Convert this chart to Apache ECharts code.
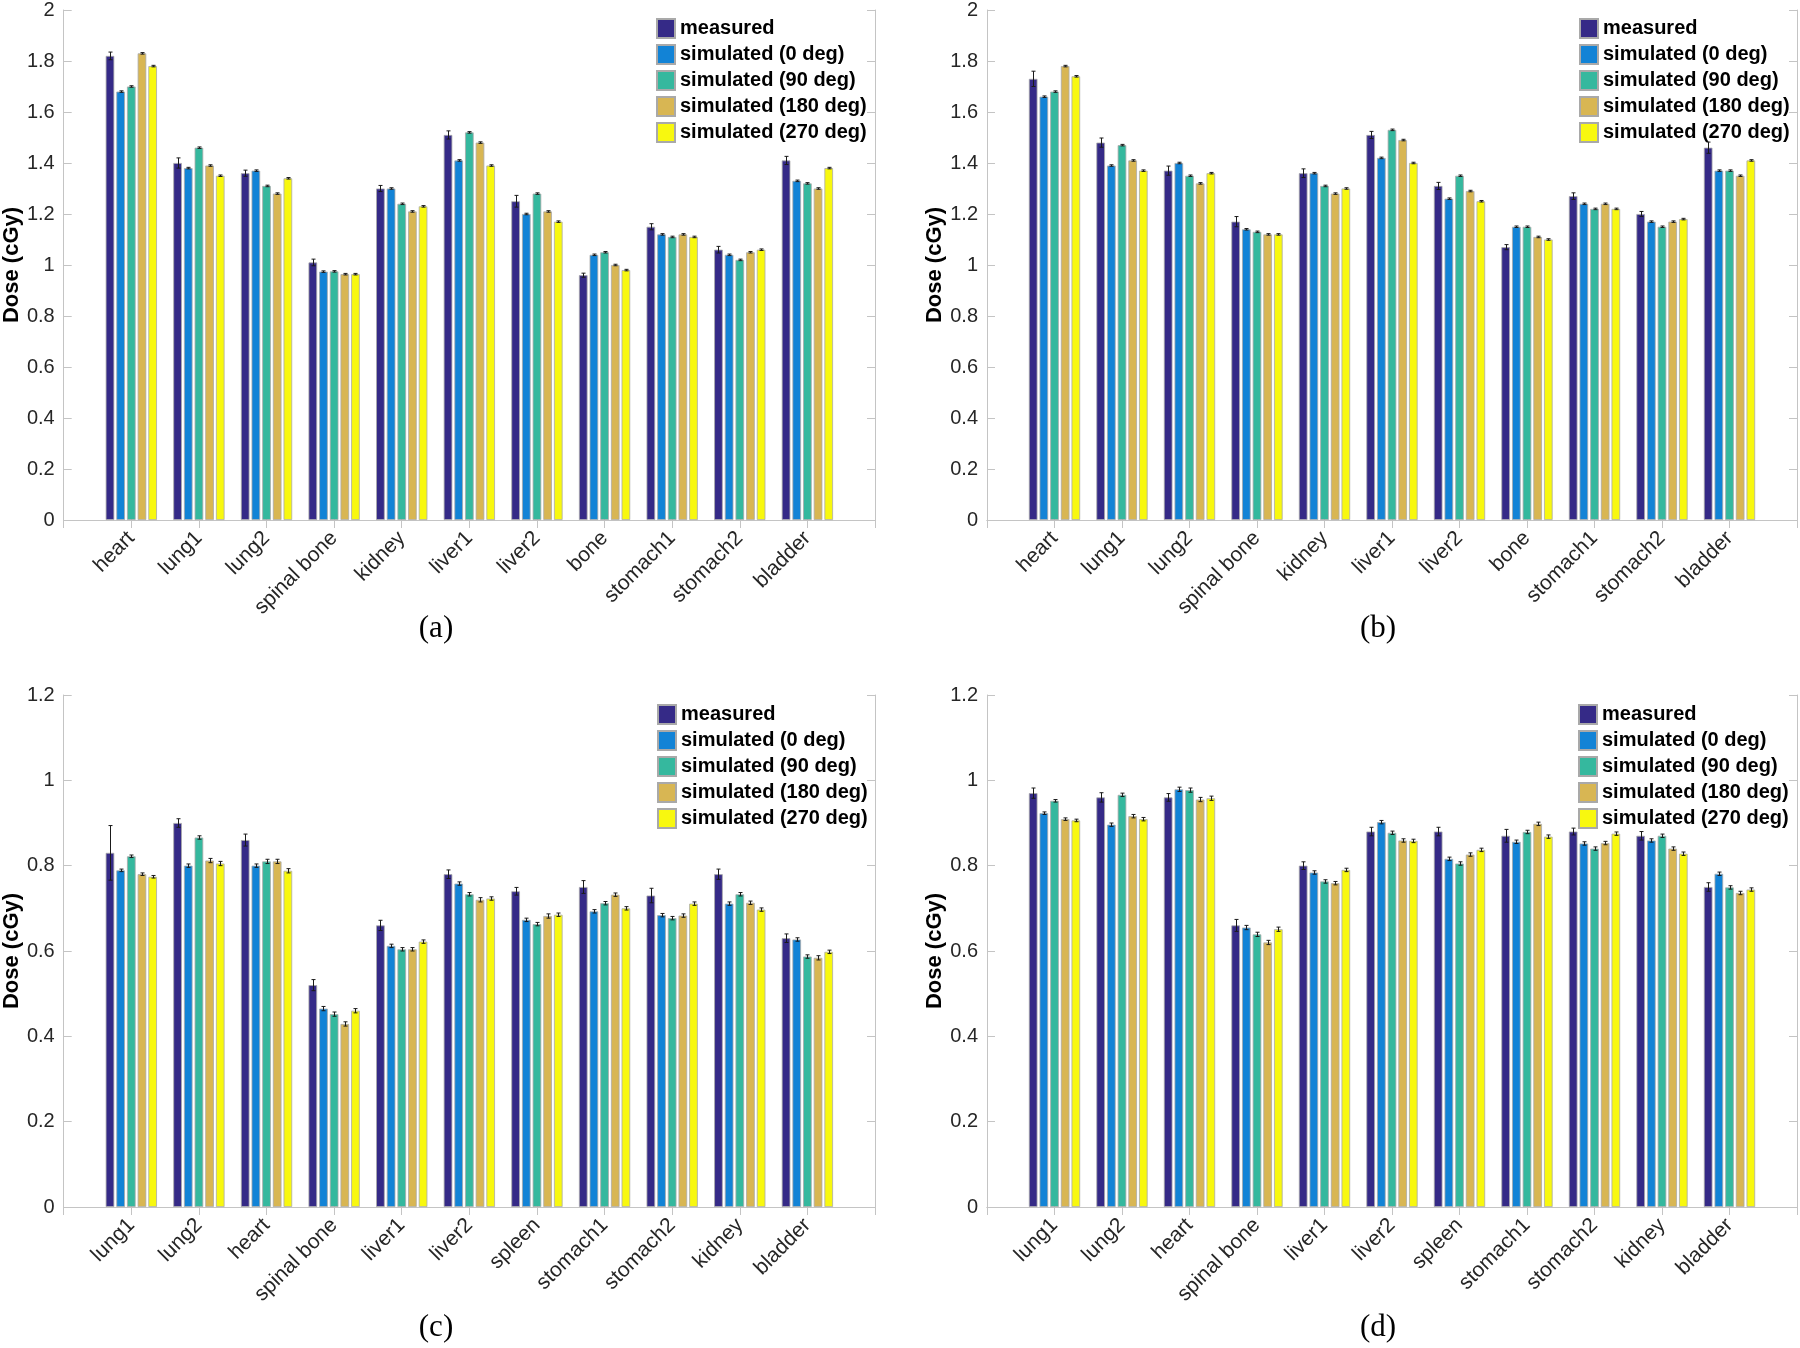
<!DOCTYPE html>
<html><head><meta charset="utf-8">
<script src="https://cdn.jsdelivr.net/npm/echarts@6/dist/echarts.min.js"></script>
<style>html,body{margin:0;padding:0;background:#fff}#c{width:1800px;height:1348px}</style>
</head><body><div id="c"></div>
<script>
// ---------- categories ----------
const catsAB = ['heart','lung1','lung2','spinal bone','kidney','liver1','liver2','bone','stomach1','stomach2','bladder'];
const catsCD = ['lung1','lung2','heart','spinal bone','liver1','liver2','spleen','stomach1','stomach2','kidney','bladder'];
const seriesNames = ['measured','simulated (0 deg)','simulated (90 deg)','simulated (180 deg)','simulated (270 deg)'];

// ---------- panel (a) ----------
const aMeasured = [1.82,1.40,1.36,1.01,1.30,1.51,1.25,0.96,1.15,1.06,1.41];
const aSim0     = [1.68,1.38,1.37,0.974,1.30,1.41,1.20,1.04,1.12,1.04,1.33];
const aSim90    = [1.70,1.46,1.31,0.975,1.24,1.52,1.28,1.05,1.11,1.02,1.32];
const aSim180   = [1.83,1.39,1.28,0.964,1.21,1.48,1.21,1.00,1.12,1.05,1.30];
const aSim270   = [1.78,1.35,1.34,0.964,1.23,1.39,1.17,0.98,1.11,1.06,1.38];
const aErrMeasured = [0.015,0.02,0.012,0.013,0.012,0.016,0.023,0.008,0.012,0.013,0.016];
const aErrSim0     = [0.003,0.003,0.003,0.003,0.003,0.003,0.003,0.003,0.003,0.003,0.003];
const aErrSim90    = [0.003,0.003,0.003,0.003,0.003,0.003,0.003,0.003,0.003,0.003,0.003];
const aErrSim180   = [0.003,0.003,0.003,0.003,0.003,0.003,0.003,0.003,0.003,0.003,0.003];
const aErrSim270   = [0.003,0.003,0.003,0.003,0.003,0.003,0.003,0.003,0.003,0.003,0.003];

// ---------- panel (b) ----------
const bMeasured = [1.73,1.48,1.37,1.17,1.36,1.51,1.31,1.07,1.27,1.20,1.46];
const bSim0     = [1.66,1.39,1.40,1.14,1.36,1.42,1.26,1.15,1.24,1.17,1.37];
const bSim90    = [1.68,1.47,1.35,1.13,1.31,1.53,1.35,1.15,1.22,1.15,1.37];
const bSim180   = [1.78,1.41,1.32,1.12,1.28,1.49,1.29,1.11,1.24,1.17,1.35];
const bSim270   = [1.74,1.37,1.36,1.12,1.30,1.40,1.25,1.10,1.22,1.18,1.41];
const bErrMeasured = [0.03,0.018,0.018,0.02,0.017,0.014,0.014,0.01,0.013,0.01,0.022];
const bErrSim0     = [0.003,0.003,0.003,0.003,0.003,0.003,0.003,0.003,0.003,0.003,0.003];
const bErrSim90    = [0.003,0.003,0.003,0.003,0.003,0.003,0.003,0.003,0.003,0.003,0.003];
const bErrSim180   = [0.003,0.003,0.003,0.003,0.003,0.003,0.003,0.003,0.003,0.003,0.003];
const bErrSim270   = [0.003,0.003,0.003,0.003,0.003,0.003,0.003,0.003,0.003,0.003,0.003];

// ---------- panel (c) ----------
const cMeasured = [0.83,0.90,0.86,0.52,0.66,0.78,0.74,0.75,0.73,0.78,0.63];
const cSim0     = [0.789,0.80,0.80,0.465,0.612,0.758,0.673,0.693,0.684,0.711,0.627];
const cSim90    = [0.822,0.866,0.81,0.452,0.604,0.733,0.663,0.712,0.677,0.733,0.587];
const cSim180   = [0.78,0.812,0.81,0.429,0.604,0.72,0.682,0.732,0.683,0.713,0.584];
const cSim270   = [0.774,0.805,0.788,0.46,0.622,0.723,0.685,0.70,0.711,0.697,0.598];
const cErrMeasured = [0.064,0.01,0.014,0.013,0.012,0.01,0.009,0.015,0.017,0.012,0.01];
const cErrSim0     = [0.003,0.004,0.004,0.005,0.004,0.004,0.004,0.004,0.004,0.004,0.004];
const cErrSim90    = [0.003,0.004,0.005,0.005,0.004,0.004,0.004,0.004,0.004,0.004,0.004];
const cErrSim180   = [0.003,0.005,0.005,0.005,0.004,0.005,0.005,0.004,0.004,0.004,0.005];
const cErrSim270   = [0.003,0.005,0.005,0.005,0.004,0.004,0.004,0.004,0.004,0.004,0.004];

// ---------- panel (d) ----------
const dMeasured = [0.97,0.96,0.96,0.66,0.80,0.88,0.88,0.87,0.88,0.87,0.75];
const dSim0     = [0.923,0.896,0.979,0.655,0.784,0.902,0.816,0.856,0.852,0.859,0.781];
const dSim90    = [0.952,0.966,0.977,0.639,0.763,0.877,0.805,0.879,0.84,0.87,0.749];
const dSim180   = [0.909,0.916,0.955,0.62,0.759,0.859,0.826,0.898,0.853,0.84,0.736];
const dSim270   = [0.906,0.909,0.958,0.651,0.79,0.858,0.837,0.868,0.875,0.828,0.744];
const dErrMeasured = [0.012,0.011,0.009,0.014,0.009,0.01,0.01,0.015,0.008,0.01,0.01];
const dErrSim0     = [0.003,0.004,0.005,0.005,0.004,0.004,0.004,0.004,0.004,0.004,0.004];
const dErrSim90    = [0.003,0.004,0.005,0.005,0.004,0.004,0.004,0.004,0.004,0.004,0.004];
const dErrSim180   = [0.003,0.004,0.005,0.005,0.004,0.004,0.004,0.004,0.004,0.004,0.004];
const dErrSim270   = [0.003,0.004,0.005,0.005,0.004,0.004,0.004,0.004,0.004,0.004,0.004];

// ---------- styles ----------
const colors = ['#352a87','#1283d6','#35b89e','#d8b653','#f8f80f'];
const FONT = 'Liberation Sans, Arial, Helvetica, sans-serif';
const AX = '#c4c4c4';
const BAR_W = 8.6, BAR_GAP = 0.24;
const PITCH = BAR_W * (1 + BAR_GAP);

const panels = [
  {cats:catsAB, vals:[aMeasured,aSim0,aSim90,aSim180,aSim270], errs:[aErrMeasured,aErrSim0,aErrSim90,aErrSim180,aErrSim270],
   grid:{left:63,top:9,width:812,height:511}, yMax:2, leg:{left:651,top:10}, label:'(a)', lx:436, ly:629},
  {cats:catsAB, vals:[bMeasured,bSim0,bSim90,bSim180,bSim270], errs:[bErrMeasured,bErrSim0,bErrSim90,bErrSim180,bErrSim270],
   grid:{left:987,top:9,width:810,height:511}, yMax:2, leg:{left:1574,top:10}, label:'(b)', lx:1378, ly:629},
  {cats:catsCD, vals:[cMeasured,cSim0,cSim90,cSim180,cSim270], errs:[cErrMeasured,cErrSim0,cErrSim90,cErrSim180,cErrSim270],
   grid:{left:63,top:695,width:812,height:512}, yMax:1.2, leg:{left:652,top:696}, label:'(c)', lx:436, ly:1328},
  {cats:catsCD, vals:[dMeasured,dSim0,dSim90,dSim180,dSim270], errs:[dErrMeasured,dErrSim0,dErrSim90,dErrSim180,dErrSim270],
   grid:{left:987,top:695,width:810,height:512}, yMax:1.2, leg:{left:1573,top:696}, label:'(d)', lx:1378, ly:1328}
];

function renderErr(params, api){
  const x = api.value(0), s = api.value(1), v = api.value(2), e = api.value(3);
  const off = (s - 2) * PITCH;
  const p0 = api.coord([x, v + e]);
  const p1 = api.coord([x, v - e]);
  const cx = Math.round(p0[0] + off) + 0.5;
  const cap = 2;
  const st = {stroke:'#1a1a1a', lineWidth:1};
  return {type:'group', children:[
    {type:'line', shape:{x1:cx, y1:p0[1], x2:cx, y2:p1[1]}, style:st},
    {type:'line', shape:{x1:cx-cap, y1:p0[1], x2:cx+cap, y2:p0[1]}, style:st},
    {type:'line', shape:{x1:cx-cap, y1:p1[1], x2:cx+cap, y2:p1[1]}, style:st}
  ]};
}

const grid = [], xAxis = [], yAxis = [], series = [], legend = [], graphic = [];
panels.forEach((p, g) => {
  grid.push(Object.assign({containLabel:false}, p.grid));
  const cats = [''].concat(p.cats, ['']);
  const xBase = {gridIndex:g, type:'category', data:cats, boundaryGap:false,
    axisLine:{show:true, lineStyle:{color:AX, width:1}},
    axisTick:{show:true, inside:true, length:8, interval:0, lineStyle:{color:AX}},
    splitLine:{show:false}};
  xAxis.push(Object.assign({}, xBase, {position:'bottom',
    axisLabel:{interval:0, rotate:45, fontSize:21, color:'#262626', fontFamily:FONT, margin:15}}));
  xAxis.push(Object.assign({}, xBase, {position:'top', axisLabel:{show:false}}));
  const yBase = {gridIndex:g, type:'value', min:0, max:p.yMax, interval:0.2,
    axisLine:{show:true, lineStyle:{color:AX, width:1}},
    axisTick:{show:true, inside:true, length:8, lineStyle:{color:AX}},
    splitLine:{show:false}};
  yAxis.push(Object.assign({}, yBase, {position:'left',
    axisLabel:{fontSize:20, color:'#262626', fontFamily:FONT, margin:9},
    name:'Dose (cGy)', nameLocation:'middle', nameGap:40,
    nameTextStyle:{fontWeight:'bold', fontSize:22, color:'#000', fontFamily:FONT}}));
  yAxis.push(Object.assign({}, yBase, {position:'right', axisLabel:{show:false}}));

  const errData = [];
  p.vals.forEach((arr, s) => {
    series.push({type:'bar', name:seriesNames[s], xAxisIndex:2*g, yAxisIndex:2*g,
      data:[null].concat(arr, [null]), barWidth:BAR_W, barGap:(BAR_GAP*100)+'%',
      itemStyle:{color:colors[s], borderColor:'#a9a9a9', borderWidth:0.8},
      emphasis:{disabled:true}, silent:true});
    arr.forEach((v, i) => errData.push([i + 1, s, v, p.errs[s][i]]));
  });
  series.push({type:'custom', name:'err'+g, xAxisIndex:2*g, yAxisIndex:2*g, renderItem:renderErr,
    data:errData, encode:{x:0, y:2}, clip:false, silent:true, z:5});

  legend.push({show:true, orient:'vertical', left:p.leg.left, top:p.leg.top, data:seriesNames,
    icon:'rect', itemWidth:18, itemHeight:19, itemGap:5, padding:[8,4,4,5],
    selectedMode:false, borderWidth:0,
    textStyle:{fontSize:20, fontWeight:'bold', color:'#000', fontFamily:FONT, lineHeight:20}});

  graphic.push({type:'text', x:p.lx, y:p.ly, style:{text:p.label, fontFamily:'Liberation Serif, Times New Roman, serif',
    fontSize:31, fill:'#000', textAlign:'center', textVerticalAlign:'middle'}});
});

const chart = echarts.init(document.getElementById('c'), null, {renderer:'canvas'});
chart.setOption({animation:false, backgroundColor:'#fff', grid, xAxis, yAxis, series, legend, graphic, tooltip:{show:false}});
</script></body></html>
